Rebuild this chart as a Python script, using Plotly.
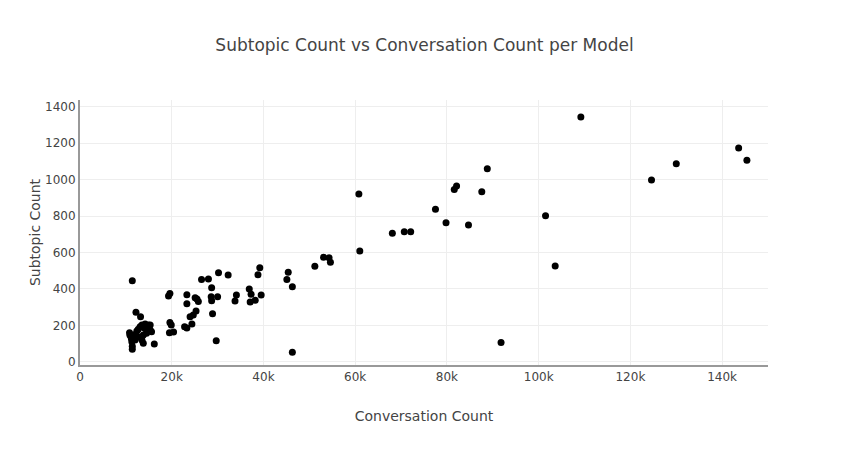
import plotly.graph_objects as go

# Conversation count (thousands) and subtopic count per model
conv_k = [
    10.8, 10.9, 11.2, 11.3, 11.4, 11.4, 11.4, 12.0, 12.2, 12.4, 12.7, 13.1, 13.2, 13.5,
    13.0, 13.5, 13.8, 13.8, 14.2, 14.5, 14.5, 14.9, 15.3, 15.3, 15.6, 16.2, 12.0, 14.0,
    19.3, 19.6, 19.6, 19.9, 19.5, 20.4, 22.8, 23.3, 23.3, 23.3, 24.4, 24.0, 24.7, 25.3,
    25.1, 25.5, 25.8, 26.5, 28.0, 28.7, 28.6, 28.7, 28.9, 29.7, 30.0, 30.2, 32.3, 34.1,
    33.8, 36.9, 37.3, 37.1, 38.2, 39.2, 38.8, 39.5,
    45.1, 45.4, 46.3, 46.3, 51.2, 53.1, 54.3, 54.6, 60.8, 61.0, 68.1, 70.7, 72.1, 77.5,
    79.8, 81.6, 82.1, 84.7, 87.6, 88.8, 91.8, 101.5, 103.6, 109.2, 124.6, 130.0, 143.6, 145.4,
]
subtopics = [
    159, 145, 128, 110, 85, 68, 445, 119, 271, 168, 178, 192, 247, 201,
    134, 119, 101, 147, 207, 156, 175, 201, 201, 174, 165, 97, 150, 185,
    361, 375, 216, 201, 159, 163, 192, 185, 368, 318, 207, 247, 256, 278,
    351, 344, 331, 452, 454, 406, 357, 335, 264, 115, 357, 489, 476, 367,
    334, 399, 371, 328, 338, 516, 478, 366,
    452, 491, 412, 52, 524, 573, 571, 546, 921, 608, 705, 714, 714, 837,
    763, 946, 965, 750, 933, 1060, 106, 802, 525, 1343, 998, 1087, 1173, 1106,
]

conversations = [v * 1000 for v in conv_k]

x_tickvals = [0, 20000, 40000, 60000, 80000, 100000, 120000, 140000]
x_ticktext = ["0", "20k", "40k", "60k", "80k", "100k", "120k", "140k"]
y_tickvals = [0, 200, 400, 600, 800, 1000, 1200, 1400]

fig = go.Figure(
    go.Scatter(
        x=conversations,
        y=subtopics,
        mode="markers",
        marker=dict(color="black", size=7),
    )
)

fig.update_layout(
    template="none",
    title=dict(text="Subtopic Count vs Conversation Count per Model", x=0.5,
               xanchor="center", y=0.915, yanchor="middle",
               font=dict(size=17, color="#444")),
    font=dict(family="Verdana, DejaVu Sans, sans-serif", color="#444", size=12),
    paper_bgcolor="white",
    plot_bgcolor="white",
    margin=dict(l=72, r=73, t=92, b=77),
    showlegend=False,
    xaxis=dict(
        title=dict(text="Conversation Count", font=dict(size=14), standoff=28),
        range=[0, 150000],
        tickvals=x_tickvals,
        ticktext=x_ticktext,
        showgrid=True,
        gridcolor="#eeeeee",
        zeroline=False,
        showline=True,
        linecolor="#999999",
        linewidth=2,
        ticks="",
    ),
    yaxis=dict(
        title=dict(text="Subtopic Count", font=dict(size=14)),
        range=[-18, 1437],
        tickvals=y_tickvals,
        showgrid=True,
        gridcolor="#eeeeee",
        zeroline=False,
        showline=True,
        linecolor="#999999",
        linewidth=2,
        ticks="",
    ),
)

fig.write_html("out.html")
